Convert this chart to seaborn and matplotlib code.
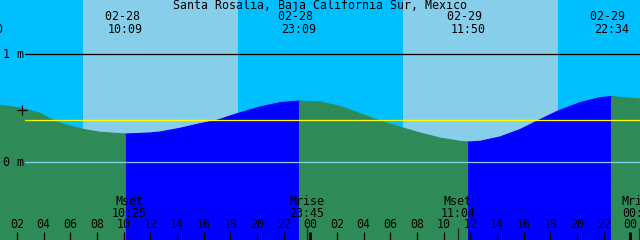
import numpy as np
import pandas as pd
import matplotlib
matplotlib.use("Agg")
import matplotlib.pyplot as plt
import matplotlib.transforms as mtransforms
import seaborn as sns

# ---------------- data (hours since 02-28 00:00, metres) ----------------
title = "Santa Rosalia, Baja California Sur, Mexico"
tide_t = [0.73, 2.38, 3.73, 4.85, 5.75, 6.95, 8.23, 10.15, 11.98, 12.73, 14.23,
          15.73, 17.0, 18.58, 20.23, 21.73, 23.15, 24.73, 26.23, 27.73, 29.08,
          30.95, 32.23, 33.73, 35.23, 35.83, 36.73, 38.23, 39.73, 41.08, 42.58,
          44.23, 45.73, 46.57, 48.73]
tide_h = [0.527, 0.499, 0.453, 0.379, 0.342, 0.305, 0.277, 0.261, 0.271, 0.280,
          0.314, 0.357, 0.388, 0.452, 0.511, 0.551, 0.566, 0.557, 0.517, 0.450,
          0.388, 0.317, 0.271, 0.224, 0.194, 0.187, 0.194, 0.234, 0.302, 0.385,
          0.474, 0.551, 0.597, 0.607, 0.584]

extreme_t = [-0.33, 10.15, 23.15, 35.83, 46.57]
extreme_date = ["02-27", "02-28", "02-28", "02-29", "02-29"]
extreme_time = ["23:40", "10:09", "23:09", "11:50", "22:34"]

day_start = [6.95, 30.95]
day_end = [18.58, 42.58]

moon_t = [10.42, 23.75, 35.07, 48.68]
moon_name = ["Mset", "Mrise", "Mset", "Mrise"]
moon_time = ["10:25", "23:45", "11:04", "00:41"]

hour_ticks = list(range(2, 49, 2))
hour_labels = [f"{h % 24:02d}" for h in hour_ticks]
midnights = [24, 48]

mean_level = 0.39
now_t, now_h = 2.38, 0.483
level_lines = [1, 0]
level_labels = ["1 m", "0 m"]

# ---------------- styling ----------------
NIGHT = "#00BFFF"
DAY = "#87CEEB"
FLOOD = "#0000FF"
EBB = "#2E8B57"

sns.set_style("white")
plt.rcParams["font.family"] = ["DejaVu Sans Mono", "DejaVu Sans"]
FS = 8.4

W, H = 640, 240
fig = plt.figure(figsize=(6.4, 2.4), dpi=100)
ax = fig.add_axes([0, 0, 1, 1])
x0, x1 = 0.7275, 48.7275
ymin, ymax = -0.717, 1.4986
ax.set_xlim(x0, x1)
ax.set_ylim(ymin, ymax)
ax.axis("off")

def yfrac(ypix):
    return 1 - ypix / H

# sky background
ax.axvspan(x0 - 5, x1 + 5, color=NIGHT, lw=0, zorder=0)
for a, b in zip(day_start, day_end):
    ax.axvspan(a, b, color=DAY, lw=0, zorder=0.5)

# tide segments: rising = flood (blue), falling = ebb (green)
t = np.array(tide_t)
h = np.array(tide_h)
bounds = [t[0]] + [e for e in extreme_t if t[0] < e < t[-1]] + [t[-1]]
rows = []
for i in range(len(bounds) - 1):
    a, b = bounds[i], bounds[i + 1]
    m = (t >= a - 1e-9) & (t <= b + 1e-9)
    phase = "rise" if h[m][-1] > h[m][0] else "fall"
    col = FLOOD if phase == "rise" else EBB
    ax.fill_between(t[m], h[m], ymin - 1, color=col, lw=0, zorder=1)
    for tt, hh in zip(t[m], h[m]):
        rows.append({"t": tt, "h": hh, "phase": phase, "seg": i})
df = pd.DataFrame(rows)
sns.lineplot(data=df, x="t", y="h", hue="phase", units="seg", estimator=None,
             palette={"rise": FLOOD, "fall": EBB}, lw=0.8, legend=False,
             ax=ax, zorder=1.5)

# level lines
xm = 25 / W
ax.axhline(1, xmin=xm, xmax=1, color="black", lw=0.9, zorder=2)
ax.axhline(0, xmin=xm, xmax=1, color="#87CEEB", lw=0.9, zorder=2)
ax.axhline(mean_level, xmin=xm, xmax=1, color="#FFFF00", lw=0.9, zorder=2)
for lv, lab in zip(level_lines, level_labels):
    ax.text(0.004, lv, lab, transform=mtransforms.blended_transform_factory(ax.transAxes, ax.transData),
            ha="left", va="center", fontsize=FS, color="black", zorder=3)

# "now" marker
ax.plot([now_t], [now_h], marker="+", color="black", ms=7, mew=0.9, zorder=3)

# title
ax.text(0.5, yfrac(5.5), title, transform=ax.transAxes, ha="center", va="center",
        fontsize=FS, color="black", zorder=3)

bt = mtransforms.blended_transform_factory(ax.transData, ax.transAxes)

# tide extreme labels (date line set slightly left, as in the reference)
for et, d, tm in zip(extreme_t, extreme_date, extreme_time):
    ax.text(et, yfrac(23), f"{d} \n{tm}", transform=bt, ha="center", va="center",
            multialignment="center", linespacing=0.95,
            fontsize=FS, color="black", zorder=3, clip_on=False)

# moon labels
for mt, nm, tm in zip(moon_t, moon_name, moon_time):
    ax.text(mt, yfrac(207.5), f"{nm}\n{tm}", transform=bt, ha="center", va="center",
            multialignment="center", linespacing=0.87,
            fontsize=FS, color="black", zorder=3)
    ax.plot([mt, mt], [yfrac(228), 0], transform=bt, color="#202020", lw=0.9,
            zorder=3, solid_capstyle="butt")

# hour ticks and labels
for ht, lab in zip(hour_ticks, hour_labels):
    ax.text(ht, yfrac(225), lab, transform=bt, ha="center", va="center",
            fontsize=FS, color="black", zorder=3)
    lw = 2.2 if ht in midnights else 0.9
    ax.plot([ht, ht], [yfrac(232), 0], transform=bt, color="black", lw=lw,
            zorder=3, solid_capstyle="butt")

fig.savefig("out.png", dpi=100)
